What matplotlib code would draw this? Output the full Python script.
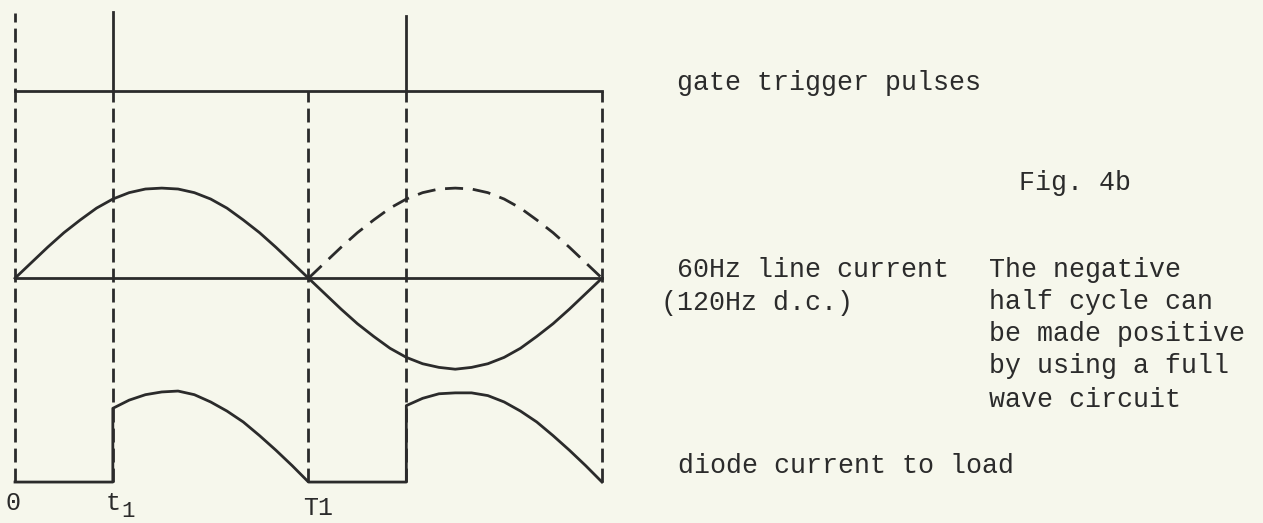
import matplotlib
matplotlib.use("Agg")
import matplotlib.pyplot as plt

# --- data (angle in degrees, amplitude in units of peak) ---
line_angles = list(range(0, 361, 10))
line_current = [0, 0.17, 0.34, 0.50, 0.64, 0.77, 0.87, 0.94, 0.98, 0.99,
                0.98, 0.94, 0.87, 0.77, 0.64, 0.50, 0.34, 0.17, 0,
                -0.17, -0.34, -0.50, -0.64, -0.77, -0.87, -0.94, -0.98, -1.0,
                -0.98, -0.94, -0.87, -0.77, -0.64, -0.50, -0.34, -0.17, 0]

rect_angles = list(range(180, 361, 10))
rect_current = [0, 0.17, 0.34, 0.50, 0.64, 0.77, 0.87, 0.94, 0.98, 0.99,
                0.98, 0.94, 0.87, 0.77, 0.64, 0.50, 0.34, 0.17, 0]

pulse_angles = [60, 240]
pulse_heights = [0.86, 0.82]

lobe1_angles = list(range(60, 181, 10))
lobe1_current = [0.81, 0.90, 0.96, 0.99, 1.0, 0.96, 0.88, 0.78, 0.66, 0.51, 0.35, 0.18, 0]
lobe2_angles = list(range(240, 361, 10))
lobe2_current = [0.84, 0.92, 0.97, 0.98, 0.98, 0.95, 0.88, 0.78, 0.66, 0.51, 0.35, 0.18, 0]

guide_angles = [60, 180, 240, 360]

# vertical levels of the three traces
DIODE_BASE = 0.0
LINE_ZERO = 2.24
GATE_LEVEL = 4.3
TOP = 5.15

INK = "#2b2b2b"
PAPER = "#f6f7ec"
FONT = "Liberation Mono"

W, H = 1263, 523
fig = plt.figure(figsize=(W / 100, H / 100), dpi=100, facecolor=PAPER)
ax = fig.add_axes([0, 0, 1, 1])
ax.set_facecolor(PAPER)
ax.set_xlim(-9.2, 765.4)
ax.set_ylim(-0.45, 5.297)
ax.axis("off")

lw = 2.0
dash = (0, (5, 2.2))

# dashed guide lines
ax.plot([0, 0], [DIODE_BASE, TOP], color=INK, lw=lw, ls=dash)
for a in guide_angles:
    ax.plot([a, a], [DIODE_BASE, GATE_LEVEL], color=INK, lw=lw, ls=dash)

# gate trigger pulses
ax.plot([0, 360], [GATE_LEVEL, GATE_LEVEL], color=INK, lw=lw)
for a, h in zip(pulse_angles, pulse_heights):
    ax.plot([a, a], [GATE_LEVEL, GATE_LEVEL + h], color=INK, lw=lw)

# line current
ax.plot([0, 360], [LINE_ZERO, LINE_ZERO], color=INK, lw=lw)
ax.plot(line_angles, [LINE_ZERO + v for v in line_current], color=INK, lw=lw,
        solid_joinstyle="round")
ax.plot(rect_angles, [LINE_ZERO + v for v in rect_current], color=INK, lw=lw,
        ls=(0, (6.5, 3.5)))

# diode current to load
dx = [0, 60] + lobe1_angles + [240] + lobe2_angles
dy = [0, 0] + lobe1_current + [0] + lobe2_current
ax.plot(dx, [DIODE_BASE + v for v in dy], color=INK, lw=lw, solid_joinstyle="round")

# axis labels under the baseline
lab = dict(color=INK, family=FONT, fontsize=18, va="baseline")
ax.text(-1.5, -0.31, "0", ha="center", **lab)
ax.text(60, -0.31, "t", ha="center", **lab)
ax.text(69.5, -0.385, "1", ha="center", color=INK, family=FONT, fontsize=16,
        va="baseline")
ax.text(176.5, -0.36, "T1", ha="left", **lab)


def note(px, py, s):
    fig.text(px / W, 1 - py / H, s, color=INK, family=FONT, fontsize=19.2,
             ha="left", va="baseline")


note(677, 90, "gate trigger pulses")
note(1019, 190, "Fig. 4b")
note(677, 277, "60Hz line current")
note(661, 310, "(120Hz d.c.)")
note(989, 277, "The negative")
note(989, 309, "half cycle can")
note(989, 341, "be made positive")
note(989, 373, "by using a full")
note(989, 407, "wave circuit")
note(678, 473, "diode current to load")

fig.savefig("out.png", dpi=100, facecolor=PAPER)
